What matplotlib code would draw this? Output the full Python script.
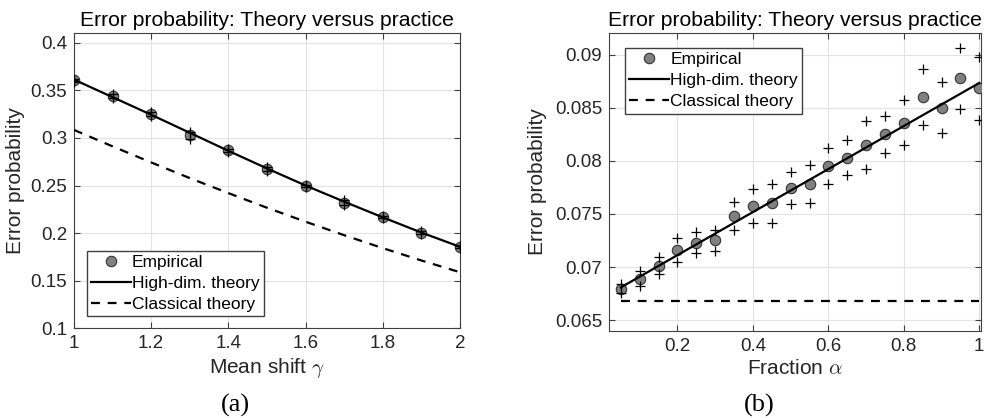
import numpy as np
import matplotlib
matplotlib.use('Agg')
import matplotlib.pyplot as plt

plt.rcParams['font.family'] = ['Liberation Sans', 'DejaVu Sans']
plt.rcParams['mathtext.fontset'] = 'cm'

# (a) 误差概率 vs 均值偏移
gamma = [1.0, 1.1, 1.2, 1.3, 1.4, 1.5, 1.6, 1.7, 1.8, 1.9, 2.0]
emp_a = [0.3607, 0.3442, 0.3256, 0.3028, 0.2871, 0.2674, 0.2492, 0.2320, 0.2168, 0.2004, 0.1853]
emp_a_hi = [0.3625, 0.3465, 0.3270, 0.3065, 0.2885, 0.2695, 0.2505, 0.2345, 0.2180, 0.2020, 0.1865]
emp_a_lo = [0.3590, 0.3420, 0.3235, 0.2990, 0.2850, 0.2650, 0.2480, 0.2295, 0.2155, 0.1985, 0.1840]
hd_a = [0.3615, 0.3430, 0.3245, 0.3055, 0.2865, 0.2680, 0.2500, 0.2330, 0.2165, 0.2005, 0.1855]
cl_a = [0.3085, 0.2912, 0.2743, 0.2578, 0.2420, 0.2266, 0.2119, 0.1977, 0.1841, 0.1711, 0.1587]

# (b) 误差概率 vs 比例
alpha = [0.05, 0.10, 0.15, 0.20, 0.25, 0.30, 0.35, 0.40, 0.45, 0.50,
         0.55, 0.60, 0.65, 0.70, 0.75, 0.80, 0.85, 0.90, 0.95, 1.00]
emp_b = [0.06789, 0.06889, 0.07008, 0.07159, 0.07227, 0.07253, 0.07479, 0.07576, 0.07598, 0.07742,
         0.07780, 0.07952, 0.08031, 0.08147, 0.08250, 0.08360, 0.08598, 0.08501, 0.08784, 0.08686]
emp_b_hi = [0.06836, 0.06964, 0.07090, 0.07274, 0.07325, 0.07347, 0.07613, 0.07739, 0.07780, 0.07893,
            0.07961, 0.08125, 0.08194, 0.08370, 0.08426, 0.08570, 0.08862, 0.08739, 0.09066, 0.08978]
emp_b_lo = [0.06751, 0.06820, 0.06930, 0.07046, 0.07128, 0.07152, 0.07347, 0.07410, 0.07410, 0.07591,
            0.07601, 0.07782, 0.07864, 0.07927, 0.08071, 0.08153, 0.08338, 0.08266, 0.08492, 0.08388]
hd_b_x = [0.05, 1.00]
hd_b = [0.06808, 0.08733]
cl_b_x = [0.05, 1.00]
cl_b = [0.06680, 0.06680]

txt = '#262626'
box = '#404040'
grid_c = '#e3e3e3'
dot_c = '#808080'

fig = plt.figure(figsize=(9.94, 4.18), dpi=100)
ax1 = fig.add_axes([0.0744, 0.2153, 0.3883, 0.7057])
ax2 = fig.add_axes([0.6127, 0.2080, 0.3740, 0.7130])


def style(ax, ylab_x):
    ax.grid(True, color=grid_c, linewidth=0.8)
    ax.set_axisbelow(True)
    for s in ax.spines.values():
        s.set_color(box)
        s.set_linewidth(0.8)
    ax.tick_params(direction='in', length=4, width=0.8, colors=box,
                   labelcolor=txt, labelsize=13.5, top=True, right=True, pad=5)
    ax.set_title('Error probability: Theory versus practice', fontsize=15.2,
                 color='black', pad=5)
    ax.set_ylabel('Error probability', fontsize=15, color=txt)
    ax.yaxis.set_label_coords(ylab_x, 0.5)


def draw(ax, x, emp, hi, lo, hx, hy, cx, cy):
    ax.plot(x, hi, '+', color='black', ms=7, mew=0.9, zorder=4)
    ax.plot(x, lo, '+', color='black', ms=7, mew=0.9, zorder=4)
    ax.plot(x, emp, 'o', color=dot_c, mec='#333333', mew=0.8, ms=7.5,
            label='Empirical', zorder=3)
    ax.plot(hx, hy, '-', color='black', lw=1.6, label='High-dim. theory', zorder=5)
    ax.plot(cx, cy, '--', color='black', lw=1.6, dashes=(4, 3.5),
            label='Classical theory', zorder=5)


def legend(ax, **kw):
    ax.legend(fontsize=12.5, frameon=True, fancybox=False, edgecolor=box,
              framealpha=1, handlelength=2.3, handletextpad=0.05, borderpad=0.25,
              labelspacing=0.33, borderaxespad=0, labelcolor='black', **kw)


draw(ax1, gamma, emp_a, emp_a_hi, emp_a_lo, gamma, hd_a, gamma, cl_a)
ax1.set_xlim(1, 2)
ax1.set_ylim(0.1, 0.4105)
ax1.set_xticks([1, 1.2, 1.4, 1.6, 1.8, 2])
ax1.set_xticklabels(['1', '1.2', '1.4', '1.6', '1.8', '2'])
ax1.set_yticks([0.1, 0.15, 0.2, 0.25, 0.3, 0.35, 0.4])
ax1.set_yticklabels(['0.1', '0.15', '0.2', '0.25', '0.3', '0.35', '0.4'])
style(ax1, -0.127)
ax1.set_xlabel(r'Mean shift $\gamma$', fontsize=15, color=txt, labelpad=3)
legend(ax1, loc='lower left', bbox_to_anchor=(0.033, 0.04))

draw(ax2, alpha, emp_b, emp_b_hi, emp_b_lo, hd_b_x, hd_b, cl_b_x, cl_b)
ax2.set_xlim(0.0186, 1.004)
ax2.set_ylim(0.06397, 0.09203)
ax2.set_xticks([0.2, 0.4, 0.6, 0.8, 1])
ax2.set_xticklabels(['0.2', '0.4', '0.6', '0.8', '1'])
ax2.set_yticks([0.065, 0.07, 0.075, 0.08, 0.085, 0.09])
ax2.set_yticklabels(['0.065', '0.07', '0.075', '0.08', '0.085', '0.09'])
style(ax2, -0.1667)
ax2.set_xlabel(r'Fraction $\alpha$', fontsize=15, color=txt, labelpad=3)
legend(ax2, loc='upper left', bbox_to_anchor=(0.043, 0.95))

fig.text(235 / 994, 1 - 405 / 418, '(a)', fontsize=19, family='Liberation Serif',
         ha='center', va='center')
fig.text(759 / 994, 1 - 405 / 418, '(b)', fontsize=19, family='Liberation Serif',
         ha='center', va='center')

fig.savefig('out.png', dpi=100)
